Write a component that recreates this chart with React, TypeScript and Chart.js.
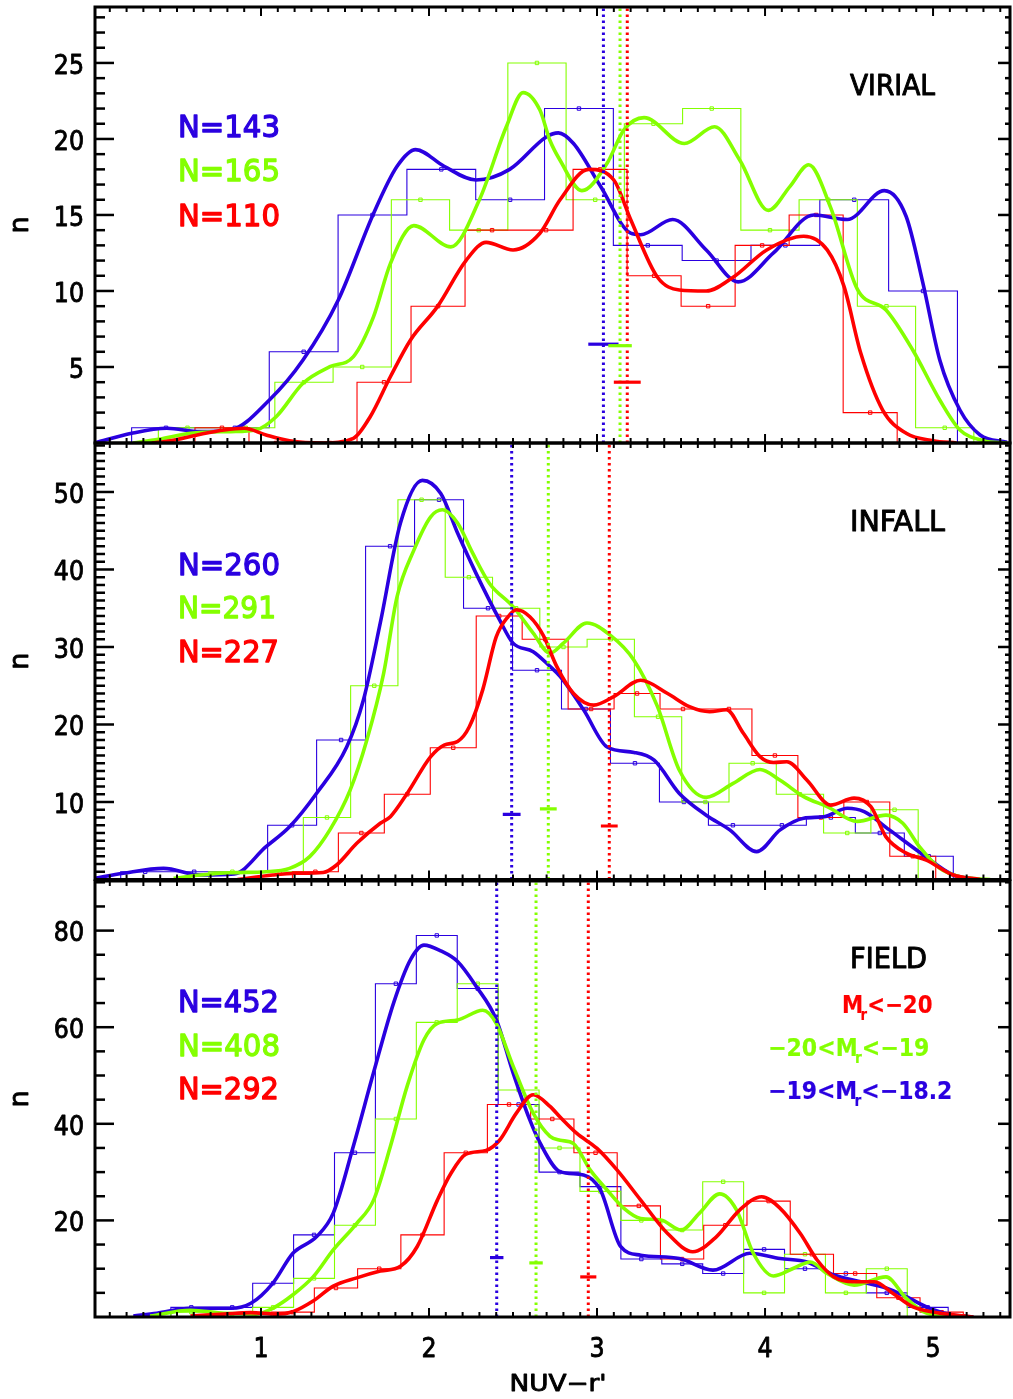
import React, { useEffect, useRef } from 'react';
import { Chart, registerables } from 'chart.js';

Chart.register(...registerables);

const BLUE = '#2a00e0';
const GREEN = '#84ff00';
const RED = '#ff0000';
const SERIES_COLORS = [BLUE, GREEN, RED];

const X_MIN = 0.012;
const X_MAX = 5.458;
const X_TICKS = [1, 2, 3, 4, 5];
const X_TICK_LABELS = ['1', '2', '3', '4', '5'];
const X_TITLE = "NUV\u2212r'";
const Y_TITLE = 'n';

// ---------------- VIRIAL ----------------
const VIRIAL_Y_TICKS = [5, 10, 15, 20, 25];
const VIRIAL_N = [143, 165, 110];
const VIRIAL_BIN_START = [0.23, 0.389, 0.607];
const VIRIAL_BIN_WIDTH = [0.4096, 0.3467, 0.3215];
const VIRIAL_BLUE_COUNTS = [1, 1, 6, 15, 18, 16, 22, 13, 12, 13, 16, 10];
const VIRIAL_GREEN_COUNTS = [1, 1, 4, 5, 16, 14, 25, 16, 21, 22, 14, 16, 9, 1];
const VIRIAL_RED_COUNTS = [1, 0, 0, 4, 9, 14, 14, 18, 11, 9, 13, 15, 2];
const VIRIAL_BLUE_CURVE: [number, number][] = [
  [0.01, 0], [0.23, 0.64], [0.44, 0.97], [0.64, 0.75], [0.82, 0.86], [1.05, 2.83], [1.25, 5.46],
  [1.46, 9.41], [1.67, 15.1], [1.81, 18.2], [1.92, 19.3], [2.09, 18.2], [2.28, 17.3], [2.48, 18.0],
  [2.7, 20.15], [2.77, 20.4], [2.86, 19.7], [3.02, 16.9], [3.2, 13.8], [3.26, 13.7], [3.45, 14.7],
  [3.65, 12.7], [3.84, 10.6], [4.05, 12.5], [4.29, 15.0], [4.49, 14.7], [4.71, 16.6], [4.84, 14.9],
  [4.94, 10.5], [5.04, 5.46], [5.16, 2.17], [5.28, 0.53], [5.44, 0.05],
];
const VIRIAL_GREEN_CURVE: [number, number][] = [
  [0.24, 0], [0.39, 0.24], [0.58, 0.64], [0.82, 0.75], [0.97, 0.86], [1.09, 1.73], [1.25, 3.93],
  [1.41, 5.02], [1.55, 5.68], [1.67, 8.31], [1.77, 11.8], [1.91, 14.3], [2.13, 12.9], [2.3, 16.0],
  [2.46, 20.8], [2.56, 23.05], [2.66, 21.9], [2.72, 19.9], [2.78, 18.6], [2.91, 16.6], [3.06, 18.4],
  [3.16, 20.6], [3.28, 21.4], [3.52, 19.7], [3.7, 20.8], [3.85, 18.6], [4.02, 15.3], [4.15, 16.9],
  [4.26, 18.3], [4.39, 15.5], [4.55, 10.1], [4.72, 8.75], [4.88, 6.1], [5.04, 2.83], [5.16, 0.86],
  [5.3, 0.15], [5.44, 0],
];
const VIRIAL_RED_CURVE: [number, number][] = [
  [0.35, 0], [0.46, 0.15], [0.62, 0.53], [0.78, 0.86], [0.9, 0.97], [1.03, 0.53], [1.17, 0.15],
  [1.37, 0], [1.55, 0.31], [1.65, 1.73], [1.77, 4.36], [1.89, 6.78], [2.05, 8.97], [2.22, 12.0],
  [2.34, 13.2], [2.5, 12.7], [2.66, 13.8], [2.78, 16.0], [2.95, 18.0], [3.1, 17.3], [3.2, 14.7],
  [3.36, 10.9], [3.49, 10.07], [3.65, 10.0], [3.81, 10.9], [4.01, 12.7], [4.23, 13.6], [4.37, 12.7],
  [4.47, 10.3], [4.57, 5.9], [4.7, 2.17], [4.84, 0.64], [5.0, 0.15], [5.14, 0],
];
const VIRIAL_MEDIANS = [3.038, 3.137, 3.18];
const VIRIAL_MARK_Y = [6.5, 6.4, 4.0];
const VIRIAL_MARK_ERR = [0.09, 0.07, 0.08];

// ---------------- INFALL ----------------
const INFALL_Y_TICKS = [10, 20, 30, 40, 50];
const INFALL_N = [260, 291, 227];
const INFALL_BIN_START = [0.165, 0.689, 1.187];
const INFALL_BIN_WIDTH = [0.2915, 0.2815, 0.2735];
const INFALL_BLUE_COUNTS = [1, 1, 1, 7, 18, 43, 49, 35, 27, 22, 15, 10, 7, 7, 8, 6, 3];
const INFALL_GREEN_COUNTS = [1, 1, 8, 25, 49, 39, 35, 30, 31, 21, 10, 15, 11, 6, 9];
const INFALL_RED_COUNTS = [1, 6, 11, 17, 34, 31, 22, 24, 22, 22, 16, 8, 10, 3];
const INFALL_BLUE_CURVE: [number, number][] = [
  [0.01, 0.15], [0.18, 0.8], [0.42, 1.44], [0.64, 0.58], [0.84, 0.71], [1.03, 4.23], [1.17, 6.8],
  [1.33, 11.1], [1.51, 17.1], [1.61, 23.2], [1.71, 33.1], [1.83, 46.0], [1.96, 51.5], [2.07, 49.8],
  [2.17, 44.7], [2.28, 39.5], [2.42, 33.5], [2.5, 30.5], [2.62, 29.4], [2.72, 27.5], [2.78, 26.2],
  [2.92, 21.9], [3.06, 17.1], [3.22, 16.4], [3.34, 15.4], [3.49, 11.1], [3.65, 8.3], [3.79, 6.4],
  [3.95, 3.6], [4.09, 6.4], [4.23, 7.9], [4.35, 8.1], [4.49, 9.2], [4.59, 8.75], [4.74, 6.4],
  [4.94, 3.2], [5.12, 0.58], [5.28, 0],
];
const INFALL_GREEN_CURVE: [number, number][] = [
  [0.48, 0.15], [0.64, 0.58], [0.82, 0.88], [1.03, 1.0], [1.17, 1.44], [1.29, 2.95], [1.41, 6.4],
  [1.53, 11.5], [1.63, 18.0], [1.73, 26.6], [1.81, 36.5], [1.91, 42.5], [2.01, 46.8], [2.08, 47.7],
  [2.17, 46.0], [2.26, 42.1], [2.36, 38.2], [2.5, 35.2], [2.62, 31.8], [2.72, 29.2], [2.8, 30.5],
  [2.94, 33.1], [3.08, 31.5], [3.22, 28.3], [3.36, 22.3], [3.49, 14.1], [3.65, 10.6], [3.81, 12.4],
  [3.97, 14.2], [4.09, 12.8], [4.23, 10.7], [4.37, 9.4], [4.55, 7.5], [4.72, 8.3], [4.82, 7.25],
  [4.92, 4.2], [5.04, 1.44], [5.16, 0.36], [5.34, 0],
];
const INFALL_RED_CURVE: [number, number][] = [
  [0.86, 0], [1.07, 0.58], [1.21, 0.8], [1.37, 0.9], [1.45, 1.87], [1.57, 4.67], [1.71, 7.25],
  [1.77, 8.1], [1.87, 11.1], [2.01, 15.85], [2.09, 17.35], [2.17, 17.8], [2.24, 19.7], [2.32, 24.5],
  [2.4, 31.3], [2.47, 33.9], [2.52, 34.8], [2.6, 33.9], [2.68, 31.5], [2.76, 27.5], [2.86, 24.0],
  [2.98, 22.5], [3.1, 23.6], [3.26, 25.7], [3.42, 24.0], [3.55, 22.3], [3.67, 21.65], [3.77, 21.9],
  [3.87, 18.9], [3.97, 15.85], [4.05, 15.1], [4.13, 15.2], [4.25, 12.8], [4.39, 9.6], [4.53, 10.5],
  [4.63, 9.4], [4.72, 5.5], [4.84, 3.4], [4.96, 2.5], [5.12, 0.58], [5.28, 0],
];
const INFALL_MEDIANS = [2.492, 2.71, 3.073];
const INFALL_MARK_Y = [8.4, 9.1, 6.9];
const INFALL_MARK_ERR = [0.053, 0.05, 0.05];

// ---------------- FIELD ----------------
const FIELD_Y_TICKS = [20, 40, 60, 80];
const FIELD_N = [452, 408, 292];
const FIELD_BIN_START = [0.22, 0.22, 1.06];
const FIELD_BIN_WIDTH = [0.2435, 0.2435, 0.2575];
const FIELD_BLUE_COUNTS = [0, 2, 2, 7, 17, 34, 69, 79, 68, 44, 30, 27, 12, 11, 9, 14, 10, 9, 5, 2];
const FIELD_GREEN_COUNTS = [0, 1, 0, 2, 8, 19, 41, 61, 69, 47, 35, 26, 20, 18, 28, 5, 13, 5, 10];
const FIELD_RED_COUNTS = [1, 6, 10, 17, 34, 44, 41, 34, 23, 12, 19, 24, 13, 9, 4, 1];
const FIELD_BLUE_CURVE: [number, number][] = [
  [0.24, 0.2], [0.38, 0.77], [0.58, 1.8], [0.82, 1.8], [0.94, 2.84], [1.07, 6.98], [1.19, 13.2],
  [1.33, 16.6], [1.43, 21.5], [1.55, 35.4], [1.67, 50.6], [1.79, 65.1], [1.89, 74.0], [1.97, 77.0],
  [2.07, 75.8], [2.17, 73.6], [2.28, 68.5], [2.4, 61.6], [2.5, 50.6], [2.6, 40.8], [2.66, 36.1],
  [2.78, 30.1], [2.92, 29.4], [3.02, 26.3], [3.14, 14.6], [3.26, 12.8], [3.49, 12.1], [3.69, 9.7],
  [3.91, 13.2], [4.09, 12.1], [4.25, 11.4], [4.41, 8.7], [4.57, 7.3], [4.72, 6.0], [4.84, 4.2],
  [4.98, 1.8], [5.12, 0.4], [5.24, 0],
];
const FIELD_GREEN_CURVE: [number, number][] = [
  [0.34, 0.2], [0.58, 1.4], [0.78, 0.77], [0.97, 0.6], [1.07, 1.8], [1.19, 4.6], [1.31, 8.3],
  [1.43, 13.9], [1.57, 19.4], [1.67, 24.2], [1.77, 35.3], [1.87, 47.8], [1.97, 57.4], [2.05, 60.8],
  [2.17, 61.5], [2.32, 63.5], [2.4, 60.8], [2.5, 52.0], [2.62, 42.2], [2.72, 37.4], [2.78, 36.6],
  [2.86, 35.9], [2.96, 30.4], [3.06, 26.3], [3.16, 22.5], [3.26, 20.4], [3.38, 20.1], [3.5, 18.0],
  [3.61, 21.5], [3.73, 25.5], [3.83, 22.2], [3.93, 13.2], [4.05, 8.5], [4.17, 10.1], [4.27, 11.4],
  [4.37, 9.0], [4.53, 6.6], [4.72, 8.3], [4.84, 3.9], [4.96, 0.8], [5.12, 0.1], [5.2, 0],
];
const FIELD_RED_CURVE: [number, number][] = [
  [0.58, 0.2], [0.78, 0.6], [0.94, 0.9], [1.09, 0.6], [1.19, 1.1], [1.31, 3.3], [1.43, 6.4],
  [1.57, 8.1], [1.71, 9.5], [1.83, 10.5], [1.93, 14.6], [2.05, 24.2], [2.13, 29.7], [2.22, 33.7],
  [2.34, 34.5], [2.42, 36.6], [2.52, 42.2], [2.62, 46.0], [2.72, 43.6], [2.78, 41.4], [2.88, 38.0],
  [3.0, 34.9], [3.12, 30.4], [3.26, 24.2], [3.42, 17.3], [3.57, 13.5], [3.71, 16.6], [3.85, 22.2],
  [3.98, 24.9], [4.09, 22.5], [4.21, 17.3], [4.31, 11.8], [4.41, 8.3], [4.53, 7.3], [4.65, 7.3],
  [4.76, 4.9], [4.88, 2.1], [5.04, 0.8], [5.24, 0],
];
const FIELD_MEDIANS = [2.403, 2.637, 2.948];
const FIELD_MARK_Y = [12.3, 11.2, 8.3];
const FIELD_MARK_ERR = [0.04, 0.04, 0.048];

type Seg = { t: string; sub?: boolean };
type Label = { segs: Seg[]; color: string; left: number; cy: number; width: number; size: number };

type PanelCfg = {
  name: string;
  top: number;
  bottom: number;
  yMax: number;
  minor: number;
  major: number;
  yTicks: number[];
  counts: number[][];
  binStart: number[];
  binWidth: number[];
  curves: [number, number][][];
  medians: number[];
  markY: number[];
  markErr: number[];
  n: number[];
  nCy: number[];
  nWidth: number[];
  title: { cy: number; width: number };
  extra: Label[];
  showX: boolean;
};

const PANELS: PanelCfg[] = [
  {
    name: 'VIRIAL', top: 7, bottom: 443, yMax: 28.68, minor: 1, major: 5, yTicks: VIRIAL_Y_TICKS,
    counts: [VIRIAL_BLUE_COUNTS, VIRIAL_GREEN_COUNTS, VIRIAL_RED_COUNTS],
    binStart: VIRIAL_BIN_START, binWidth: VIRIAL_BIN_WIDTH,
    curves: [VIRIAL_BLUE_CURVE, VIRIAL_GREEN_CURVE, VIRIAL_RED_CURVE],
    medians: VIRIAL_MEDIANS, markY: VIRIAL_MARK_Y, markErr: VIRIAL_MARK_ERR,
    n: VIRIAL_N, nCy: [126, 170, 215], nWidth: [102, 102, 102],
    title: { cy: 84, width: 85 }, extra: [], showX: false,
  },
  {
    name: 'INFALL', top: 443, bottom: 879.5, yMax: 56.32, minor: 1, major: 10, yTicks: INFALL_Y_TICKS,
    counts: [INFALL_BLUE_COUNTS, INFALL_GREEN_COUNTS, INFALL_RED_COUNTS],
    binStart: INFALL_BIN_START, binWidth: INFALL_BIN_WIDTH,
    curves: [INFALL_BLUE_CURVE, INFALL_GREEN_CURVE, INFALL_RED_CURVE],
    medians: INFALL_MEDIANS, markY: INFALL_MARK_Y, markErr: INFALL_MARK_ERR,
    n: INFALL_N, nCy: [564, 607.5, 651], nWidth: [102, 98, 101],
    title: { cy: 520, width: 95 }, extra: [], showX: false,
  },
  {
    name: 'FIELD', top: 881, bottom: 1317, yMax: 90.27, minor: 5, major: 20, yTicks: FIELD_Y_TICKS,
    counts: [FIELD_BLUE_COUNTS, FIELD_GREEN_COUNTS, FIELD_RED_COUNTS],
    binStart: FIELD_BIN_START, binWidth: FIELD_BIN_WIDTH,
    curves: [FIELD_BLUE_CURVE, FIELD_GREEN_CURVE, FIELD_RED_CURVE],
    medians: FIELD_MEDIANS, markY: FIELD_MARK_Y, markErr: FIELD_MARK_ERR,
    n: FIELD_N, nCy: [1001, 1045, 1088], nWidth: [101, 102, 101],
    title: { cy: 957, width: 77 },
    extra: [
      { segs: [{ t: 'M' }, { t: 'r', sub: true }, { t: '<\u221220' }], color: RED, left: 842, cy: 1004, width: 93, size: 24 },
      { segs: [{ t: '\u221220<M' }, { t: 'r', sub: true }, { t: '<\u221219' }], color: GREEN, left: 768, cy: 1047, width: 164, size: 24 },
      { segs: [{ t: '\u221219<M' }, { t: 'r', sub: true }, { t: '<\u221218.2' }], color: BLUE, left: 768, cy: 1090, width: 187, size: 24 },
    ],
    showX: true,
  },
];

const FAMILY = '"DejaVu Sans", "Liberation Sans", sans-serif';

function drawRich(ctx: CanvasRenderingContext2D, segs: Seg[], left: number, cy: number, width: number | null,
  size: number, color: string, bold: boolean, stroke: number, scaleX = 1, align: 'left' | 'center' | 'right' = 'left') {
  const cap = 0.729 * size;
  const base = cy + cap / 2;
  const weight = bold ? 'bold ' : '';
  const fonts = segs.map((s) => `${weight}${s.sub ? Math.round(size * 0.62) : size}px ${FAMILY}`);
  let total = 0;
  const ws = segs.map((s, i) => {
    ctx.font = fonts[i];
    const w = ctx.measureText(s.t).width;
    total += w;
    return w;
  });
  const sx = width ? width / total : scaleX;
  const drawnW = total * sx;
  let x0 = left;
  if (align === 'center') x0 = left - drawnW / 2;
  if (align === 'right') x0 = left - drawnW;
  ctx.save();
  ctx.translate(x0, base);
  ctx.scale(sx, 1);
  ctx.fillStyle = color;
  ctx.strokeStyle = color;
  ctx.lineWidth = stroke;
  ctx.lineJoin = 'round';
  ctx.textAlign = 'left';
  ctx.textBaseline = 'alphabetic';
  let cx = 0;
  segs.forEach((s, i) => {
    ctx.font = fonts[i];
    const dy = s.sub ? size * 0.3 : 0;
    const dx = s.sub ? -size * 0.12 : 0;
    ctx.fillText(s.t, cx + dx, dy);
    if (stroke > 0) ctx.strokeText(s.t, cx + dx, dy);
    cx += ws[i] + (s.sub ? -size * 0.12 : 0);
  });
  ctx.restore();
}

function histPoints(start: number, width: number, counts: number[]) {
  const pts: { x: number; y: number }[] = [];
  for (let i = -1; i <= counts.length; i++) {
    pts.push({ x: start + (i + 0.5) * width, y: i >= 0 && i < counts.length ? counts[i] : 0 });
  }
  return pts;
}

function buildDatasets(cfg: PanelCfg) {
  const ds: any[] = [];
  cfg.counts.forEach((counts, k) => {
    const data = histPoints(cfg.binStart[k], cfg.binWidth[k], counts);
    ds.push({
      data,
      stepped: 'middle',
      borderColor: SERIES_COLORS[k],
      borderWidth: 1.1,
      pointStyle: 'rect',
      pointRadius: (c: any) => (c.dataIndex === 0 || c.dataIndex === data.length - 1 ? 0 : 2.4),
      pointBorderWidth: 1,
      pointBorderColor: SERIES_COLORS[k],
      pointBackgroundColor: 'rgba(0,0,0,0)',
      fill: false,
      order: 30 - k,
    });
  });
  cfg.curves.forEach((curve, k) => {
    ds.push({
      data: curve.map(([x, y]) => ({ x, y })),
      borderColor: SERIES_COLORS[k],
      borderWidth: 3.6,
      pointRadius: 0,
      cubicInterpolationMode: 'monotone',
      tension: 0.4,
      fill: false,
      order: 20 - k,
    });
  });
  cfg.medians.forEach((m, k) => {
    ds.push({
      data: [{ x: m, y: 0 }, { x: m, y: cfg.yMax }],
      borderColor: SERIES_COLORS[k],
      borderWidth: 3,
      borderDash: [2.5, 3.5],
      pointRadius: 0,
      fill: false,
      order: 10 - k,
    });
    ds.push({
      data: [{ x: m - cfg.markErr[k], y: cfg.markY[k] }, { x: m + cfg.markErr[k], y: cfg.markY[k] }],
      borderColor: SERIES_COLORS[k],
      borderWidth: 3.2,
      pointRadius: 0,
      fill: false,
      order: 5 - k,
    });
  });
  return ds;
}

function decorPlugin(cfg: PanelCfg) {
  return {
    id: 'decor' + cfg.name,
    afterDraw(chart: any) {
      const ctx: CanvasRenderingContext2D = chart.ctx;
      const a = chart.chartArea;
      const xs = chart.scales.x;
      const ys = chart.scales.y;
      ctx.save();
      ctx.strokeStyle = '#000';
      ctx.lineCap = 'butt';
      const seg = (x1: number, y1: number, x2: number, y2: number) => {
        ctx.beginPath();
        ctx.moveTo(x1, y1);
        ctx.lineTo(x2, y2);
        ctx.stroke();
      };
      ctx.lineWidth = 2;
      for (let k = 1; k <= 54; k++) {
        const v = k / 10;
        if (v <= X_MIN || v >= X_MAX) continue;
        const px = xs.getPixelForValue(v);
        const len = k % 10 === 0 ? 9 : 5;
        seg(px, a.bottom, px, a.bottom - len);
        seg(px, a.top, px, a.top + len);
      }
      ctx.lineWidth = 2.5;
      const nSteps = Math.floor(cfg.yMax / cfg.minor + 1e-6);
      for (let i = 1; i <= nSteps; i++) {
        const v = i * cfg.minor;
        const py = ys.getPixelForValue(v);
        const major = Math.abs(v / cfg.major - Math.round(v / cfg.major)) < 1e-6;
        seg(a.left, py, a.left + (major ? 19 : 10), py);
        seg(a.right, py, a.right - (major ? 12 : 5), py);
      }
      ctx.lineWidth = 3;
      ctx.strokeRect(a.left, a.top, a.right - a.left, a.bottom - a.top);
      ctx.restore();

      cfg.yTicks.forEach((v) => {
        drawRich(ctx, [{ t: String(v) }], 84, ys.getPixelForValue(v) + 1, null, 27, '#000', false, 0.9, 0.88, 'right');
      });
      ctx.save();
      ctx.translate(20, (a.top + a.bottom) / 2);
      ctx.rotate(-Math.PI / 2);
      drawRich(ctx, [{ t: Y_TITLE }], 0, -0.729 * 27 / 2 + 0.56 * 27 / 2, null, 27, '#000', false, 0.9, 1, 'center');
      ctx.restore();

      if (cfg.showX) {
        X_TICKS.forEach((v, i) => {
          drawRich(ctx, [{ t: X_TICK_LABELS[i] }], xs.getPixelForValue(v), 1347, null, 27, '#000', false, 0.9, 0.88, 'center');
        });
        drawRich(ctx, [{ t: X_TITLE }], 558, 1383, 97, 23, '#000', false, 0.9, 1, 'center');
      }

      drawRich(ctx, [{ t: cfg.name }], 850, cfg.title.cy, cfg.title.width, 29, '#000', false, 1.0);
      cfg.n.forEach((nv, k) => {
        drawRich(ctx, [{ t: 'N=' + nv }], 178, cfg.nCy[k], cfg.nWidth[k], 30, SERIES_COLORS[k], false, 1.3);
      });
      cfg.extra.forEach((l) => {
        drawRich(ctx, l.segs, l.left, l.cy, l.width, l.size, l.color, true, 0.2);
      });
    },
  };
}

function Panel({ cfg }: { cfg: PanelCfg }) {
  const ref = useRef<HTMLCanvasElement>(null);
  useEffect(() => {
    const chart = new Chart(ref.current as HTMLCanvasElement, {
      type: 'line',
      data: { datasets: buildDatasets(cfg) },
      options: {
        animation: false,
        responsive: false,
        devicePixelRatio: 1,
        layout: { padding: { left: 95, right: 1013 - 1010, top: cfg.top, bottom: 1399 - cfg.bottom } },
        scales: {
          x: { type: 'linear', min: X_MIN, max: X_MAX, display: false },
          y: { type: 'linear', min: 0, max: cfg.yMax, display: false },
        },
        plugins: { legend: { display: false }, tooltip: { enabled: false } },
        events: [],
      },
      plugins: [decorPlugin(cfg)],
    } as any);
    return () => chart.destroy();
  }, [cfg]);
  return (
    <canvas
      ref={ref}
      width={1013}
      height={1399}
      style={{ position: 'absolute', left: 0, top: 0, width: 1013, height: 1399 }}
    />
  );
}

export default function App() {
  return (
    <div style={{ position: 'absolute', left: 0, top: 0, width: 1013, height: 1399, background: '#ffffff', overflow: 'hidden' }}>
      {PANELS.map((p) => (
        <Panel key={p.name} cfg={p} />
      ))}
    </div>
  );
}
